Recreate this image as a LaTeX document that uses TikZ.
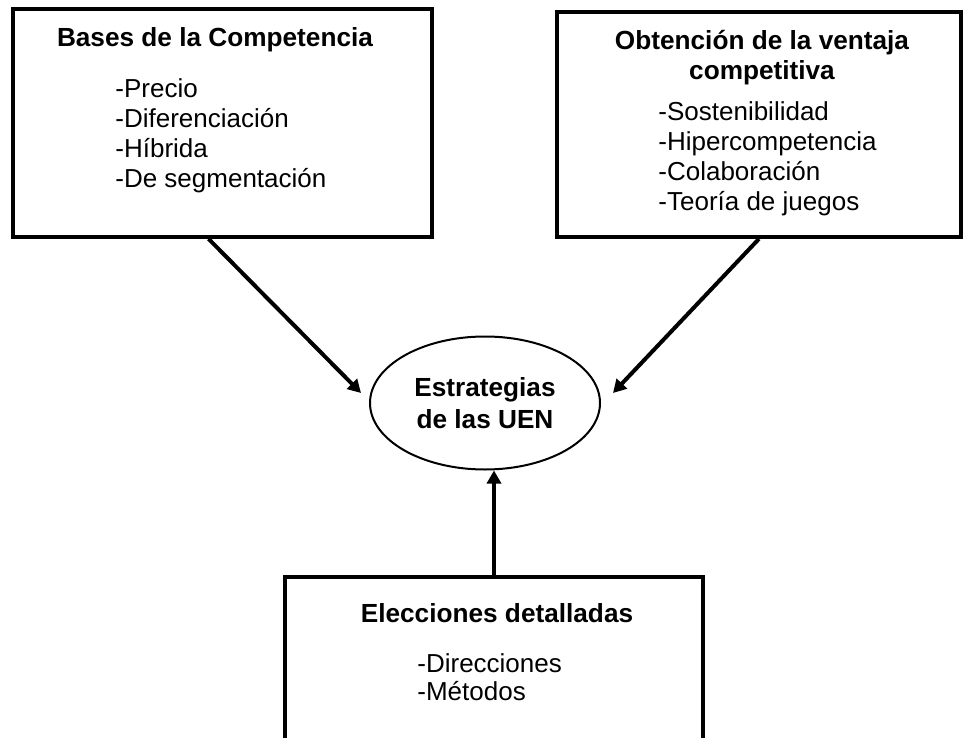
\documentclass[tikz,border=0pt]{standalone}
\usepackage{fontspec}
\setmainfont{Liberation Sans}
\usetikzlibrary{arrows.meta,positioning,shapes.geometric,calc}

\begin{document}
\begin{tikzpicture}[
  x=0.5pt, y=-0.5pt,
  font=\fontsize{13}{15}\selectfont,
  >={Triangle[length=6.5pt,width=7pt]},
  block/.style={
    draw,
    line width=1.8pt,
    inner sep=0pt
  },
  heading/.style={
    font=\fontsize{13.1}{15}\selectfont\bfseries,
    anchor=base,
    align=center,
    inner sep=0pt
  },
  items/.style={
    anchor=base west,
    align=left,
    inner sep=0pt
  },
  link/.style={->, line width=2pt}
]
\useasboundingbox (0,0) rectangle (963,738);
\node[block, minimum width=209.5pt, minimum height=114pt] (bases) at (222.5,123) {};
\node[block, minimum width=202pt, minimum height=112.5pt] (ventaja) at (759,124.5) {};
\node[block, minimum width=209pt, minimum height=91.5pt] (elecc) at (494,668.5) {};
\node[draw, ellipse, line width=1pt, align=center, font=\fontsize{13.1}{16}\selectfont\bfseries,
  minimum width=115pt, minimum height=66.5pt] (uen) at (485,403) {Estrategias\\de las UEN};
% contents of the boxes (base = last line)
\node[heading] (basestit) at (215,47) {Bases de la Competencia};
\node[items] (baseslist) at (115,187) {-Precio\\-Diferenciación\\-Híbrida\\-De segmentación};
\node[heading] (ventajatit) at (762,80) {Obtención de la ventaja\\competitiva};
\node[items] (ventajalist) at (658,210) {-Sostenibilidad\\-Hipercompetencia\\-Colaboración\\-Teoría de juegos};
\node[heading] (elecctit) at (497,622) {Elecciones detalladas};
\node[items, font=\fontsize{13}{14}\selectfont] (ecclist) at (417,700) {-Direcciones\\-Métodos};
\draw[link] ([xshift=-7pt]bases.south) -- ([xshift=-4pt,yshift=5pt]uen.west);
\draw[link] (ventaja.south) -- ([xshift=6pt,yshift=5pt]uen.east);
\draw[link] (elecc.north) -- (elecc.north |- uen.south);
\end{tikzpicture}
\end{document}
